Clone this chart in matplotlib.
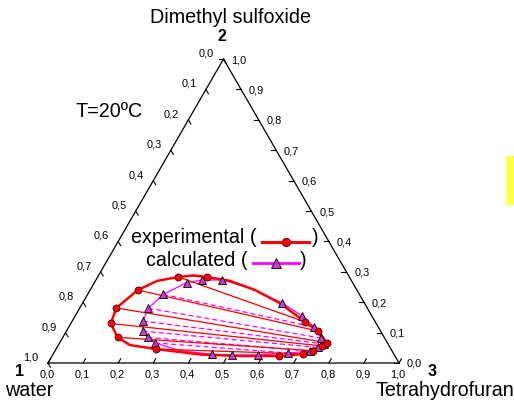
import numpy as np
import matplotlib
matplotlib.use('Agg')
import matplotlib.pyplot as plt
from matplotlib.patches import Rectangle

# mass fractions (THF, DMSO); water = 1 - THF - DMSO
exp_thf = [0.312, 0.230, 0.136, 0.104, 0.114, 0.156, 0.284,
           0.647, 0.713, 0.734, 0.753, 0.761, 0.717, 0.665]
exp_dmso = [0.283, 0.283, 0.240, 0.181, 0.130, 0.0845, 0.046,
            0.023, 0.0296, 0.0405, 0.056, 0.0668, 0.105, 0.135]
# tie lines as (water-rich index, THF-rich index)
exp_ties = [(1, 13), (2, 12), (3, 11), (4, 10), (5, 9), (6, 8)]

# experimental binodal
exp_curve_thf = [0.312, 0.384, 0.470, 0.562, 0.665, 0.717, 0.761, 0.769,
                 0.753, 0.734, 0.713, 0.647, 0.535, 0.419, 0.284, 0.204,
                 0.156, 0.114, 0.104, 0.136, 0.176, 0.230, 0.269, 0.312]
exp_curve_dmso = [0.283, 0.270, 0.240, 0.197, 0.135, 0.105, 0.0668, 0.061,
                  0.056, 0.0405, 0.0296, 0.023, 0.023, 0.028, 0.046, 0.059,
                  0.0845, 0.130, 0.181, 0.240, 0.270, 0.283, 0.288, 0.283]

calc_thf = [0.360, 0.301, 0.263, 0.215, 0.196, 0.201, 0.217, 0.242, 0.272,
            0.452, 0.510, 0.586, 0.668, 0.567, 0.648, 0.699, 0.737, 0.755,
            0.744, 0.727]
calc_dmso = [0.273, 0.273, 0.264, 0.226, 0.180, 0.138, 0.105, 0.084, 0.066,
             0.0286, 0.0263, 0.0263, 0.033, 0.198, 0.154, 0.118, 0.082,
             0.0625, 0.051, 0.0395]
calc_ties = [(3, 15), (4, 16), (5, 17), (6, 18), (7, 19), (8, 12)]

calc_curve_thf = [0.360, 0.452, 0.567, 0.648, 0.699, 0.737, 0.758, 0.744,
                  0.727, 0.668, 0.586, 0.510, 0.452, 0.355, 0.272, 0.242,
                  0.217, 0.201, 0.196, 0.215, 0.263, 0.301, 0.360]
calc_curve_dmso = [0.273, 0.247, 0.198, 0.154, 0.118, 0.082, 0.064, 0.051,
                   0.0395, 0.033, 0.0263, 0.0263, 0.0286, 0.041, 0.066, 0.084,
                   0.105, 0.138, 0.180, 0.226, 0.264, 0.273, 0.273]

tick_vals = np.round(np.arange(0, 1.01, 0.1), 1)
tick_labels = ['%.1f' % v for v in tick_vals]
tick_labels = [s.replace('.', ',') for s in tick_labels]

H = np.sqrt(3) / 2
FONT = 'Liberation Sans'
FS = 14.2
FS_NUM = 11.5
RED = '#ff0000'
MAG = '#ff00ff'
TRI = '#c83cc8'


def tern(thf, dmso):
    thf = np.asarray(thf, dtype=float)
    dmso = np.asarray(dmso, dtype=float)
    return thf + dmso / 2, dmso * H


def px(xp, yp):
    # layout helper: pixel position -> axes data units
    return (xp - 48) / 351.0, (363 - yp) / 351.0


fig = plt.figure(figsize=(5.14, 4.01), dpi=100)
ax = fig.add_axes([0, 0, 1, 1])
ax.set_xlim(-48 / 351.0, 466 / 351.0)
ax.set_ylim(-38 / 351.0, 363 / 351.0)
ax.axis('off')

# triangle frame
ax.plot([0, 1, 0.5, 0], [0, 0, H, 0], color='black', lw=0.9,
        solid_joinstyle='miter', zorder=2)

L = 0.014
for v, lab in zip(tick_vals, tick_labels):
    # bottom: THF
    ax.plot([v, v + L * 0.5], [0, L * H], color='black', lw=0.8)
    ax.text(v - 1 / 351.0, -11.5 / 351.0, lab, fontsize=7.9, family=FONT,
            ha='center', va='center')
    # left: water
    x0, y0 = (1 - v) / 2, (1 - v) * H
    ax.plot([x0, x0 + L * 0.5], [y0, y0 - L * H], color='black', lw=0.8)
    ax.text(x0 - 16.8 / 351.0, y0 + 5.5 / 351.0, lab, fontsize=7.9,
            family=FONT, ha='center', va='center')
    # right: DMSO
    x1, y1 = 1 - v / 2, v * H
    ax.plot([x1, x1 - L], [y1, y1], color='black', lw=0.8)
    ax.text(x1 + 15.5 / 351.0, y1 - 1 / 351.0, lab, fontsize=7.9,
            family=FONT, ha='center', va='center')

# calculated
cx, cy = tern(calc_curve_thf, calc_curve_dmso)
ax.plot(cx, cy, color=MAG, lw=0.9, zorder=3)
mx, my = tern(calc_thf, calc_dmso)
for i, j in calc_ties:
    ax.plot([mx[i], mx[j]], [my[i], my[j]], color=MAG, lw=0.9,
            ls=(0, (4, 2.5)), zorder=3)

# experimental
ex, ey = tern(exp_curve_thf, exp_curve_dmso)
ax.plot(ex, ey, color=RED, lw=1.8, zorder=4)
rx, ry = tern(exp_thf, exp_dmso)
for i, j in exp_ties:
    ax.plot([rx[i], rx[j]], [ry[i], ry[j]], color=RED, lw=0.9, zorder=4)

ax.plot(mx, my, ls='none', marker='^', ms=5.3, mfc=TRI, mec='black',
        mew=0.6, zorder=5)
ax.plot(rx, ry, ls='none', marker='o', ms=5, mfc=RED, mec='#400000',
        mew=0.6, zorder=6)

# labels
ax.text(*px(231, 17), 'Dimethyl sulfoxide', fontsize=FS, family=FONT,
        ha='center', va='center')
ax.text(*px(222, 36), '2', fontsize=FS_NUM, family=FONT, weight='bold',
        ha='center', va='center')
ax.text(*px(19, 371), '1', fontsize=FS_NUM, family=FONT, weight='bold',
        ha='center', va='center')
ax.text(*px(5, 391), 'water', fontsize=FS, family=FONT,
        ha='left', va='center')
ax.text(*px(432, 371), '3', fontsize=FS_NUM, family=FONT, weight='bold',
        ha='center', va='center')
ax.text(*px(376, 391), 'Tetrahydrofuran', fontsize=FS, family=FONT,
        ha='left', va='center')
ax.text(*px(76, 111), 'T=20ºC', fontsize=FS, family=FONT,
        ha='left', va='center')

# legend
ax.text(*px(131, 237), 'experimental (', fontsize=FS, family=FONT,
        ha='left', va='center')
lx0, ly = px(262, 241.5)
lx1, _ = px(309, 241.5)
ax.plot([lx0, lx1], [ly, ly], color=RED, lw=2.2)
ax.plot([(lx0 + lx1) / 2], [ly], marker='o', ms=6, mfc=RED, mec='#400000',
        mew=0.6)
ax.text(*px(311.5, 237), ')', fontsize=FS, family=FONT,
        ha='left', va='center')

ax.text(*px(146, 260), 'calculated (', fontsize=FS, family=FONT,
        ha='left', va='center')
lx0, ly = px(253, 262.7)
lx1, _ = px(299, 262.7)
ax.plot([lx0, lx1], [ly, ly], color=MAG, lw=2.0)
ax.plot([(lx0 + lx1) / 2], [ly], marker='^', ms=6.5, mfc=TRI, mec='black',
        mew=0.6)
ax.text(*px(299.5, 260), ')', fontsize=FS, family=FONT,
        ha='left', va='center')

# yellow strip at the right edge
rx0, ry0 = px(506, 205)
ax.add_patch(Rectangle((rx0, ry0), 8 / 351.0, 49 / 351.0,
                       facecolor='#ffff4d', edgecolor='none'))

fig.savefig('out.png', dpi=100)
